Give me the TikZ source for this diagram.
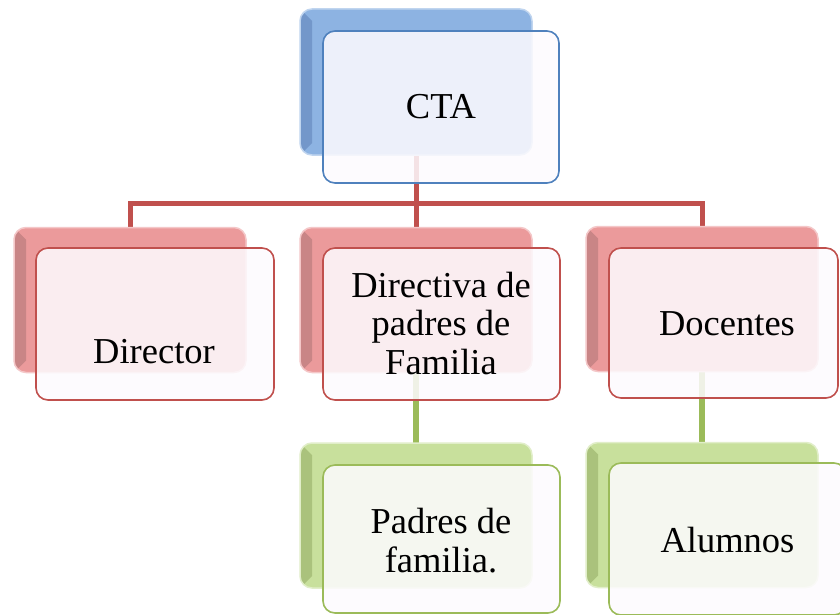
\documentclass[tikz,border=0pt]{standalone}
\usepackage{fontspec}
\setmainfont{Liberation Serif}
\usetikzlibrary{calc}
\definecolor{bBack}{HTML}{8DB3E2}
\definecolor{bDark}{HTML}{7397CA}
\definecolor{bLine}{HTML}{4F81BD}
\definecolor{rBack}{HTML}{EB9A9B}
\definecolor{rDark}{HTML}{C98586}
\definecolor{rLine}{HTML}{C0504D}
\definecolor{gBack}{HTML}{C8E09C}
\definecolor{gDark}{HTML}{AAC27C}
\definecolor{gLine}{HTML}{9BBB59}
\definecolor{frontfill}{HTML}{FDFBFE}
\pgfdeclarelayer{bg}
\pgfsetlayers{bg,main}
\tikzset{
  backbox/.style={rectangle, rounded corners=12pt, inner sep=0pt, outer sep=0pt,
    minimum width=232pt, minimum height=146pt},
  back/.style 2 args={backbox, fill=#1, draw=#1!55!white, line width=1.5pt,
    path picture={\fill[#2, sharp corners] (path picture bounding box.north west)
      -- ([xshift=12pt,yshift=-12pt]path picture bounding box.north west)
      -- ([xshift=12pt,yshift=12pt]path picture bounding box.south west)
      -- (path picture bounding box.south west) -- cycle;}},
  front/.style={rectangle, rounded corners=12pt, inner sep=0pt, outer sep=0pt,
    minimum width=237pt, minimum height=152pt, fill=frontfill, fill opacity=0.86,
    draw=#1, draw opacity=1, line width=1.6pt},
  lbl/.style={anchor=base, align=center, inner sep=0pt, text=black,
    font=\fontsize{36.5}{38.5}\selectfont},
  rconn/.style={draw=rLine, line width=5pt},
  gconn/.style={draw=gLine, line width=5.5pt},
}
\begin{document}
\begin{tikzpicture}[x=1pt,y=-1pt]
\useasboundingbox (0,0) rectangle (840,615);
% back boxes
\node[back={bBack}{bDark}] (ctaB) at (416,82) {};
\node[back={rBack}{rDark}, minimum height=145pt] (dirB) at (130,300) {};
\node[back={rBack}{rDark}, minimum height=145pt] (dvB) at (416,300) {};
\node[back={rBack}{rDark}, minimum height=145pt] (docB) at (702,299) {};
\node[back={gBack}{gDark}, minimum height=145pt] (padB) at (416,515.5) {};
\node[back={gBack}{gDark}, minimum height=145pt] (aluB) at (702,515) {};
% front boxes
\node[front=bLine, minimum width=236pt] (cta) at (441,107) {};
\node[front=rLine, minimum width=238pt] (dir) at (155,324) {};
\node[front=rLine] (dv) at (441.5,324) {};
\node[front=rLine, minimum width=229pt, minimum height=150pt] (doc) at (723.5,323) {};
\node[front=gLine, minimum height=148pt] (pad) at (441.5,539) {};
\node[front=gLine] (alu) at (727.5,539) {};
% texts (base = baseline of last line)
\node[lbl] (tcta) at (441,119) {CTA};
\node[lbl] (tdir) at (154,363) {Director};
\node[lbl] (tdv) at (441,374) {Directiva de\\padres de\\Familia};
\node[lbl] (tdoc) at (727,335) {Docentes};
\node[lbl] (tpad) at (441,572) {Padres de\\familia.};
\node[lbl] (talu) at (727.5,552) {Alumnos};
% connectors
\begin{pgfonlayer}{bg}
\fill[white] (0,0) rectangle (840,615);
\coordinate (hub) at (416,203);
\draw[rconn] (ctaB.south) -- (hub);
\draw[rconn] (hub) -| (dirB.north);
\draw[rconn] (hub) -- (dvB.north);
\draw[rconn] (hub) -| (docB.north);
\draw[gconn] (dvB.south) -- (padB.north);
\draw[gconn] (docB.south) -- (aluB.north);
\end{pgfonlayer}
\end{tikzpicture}
\end{document}
